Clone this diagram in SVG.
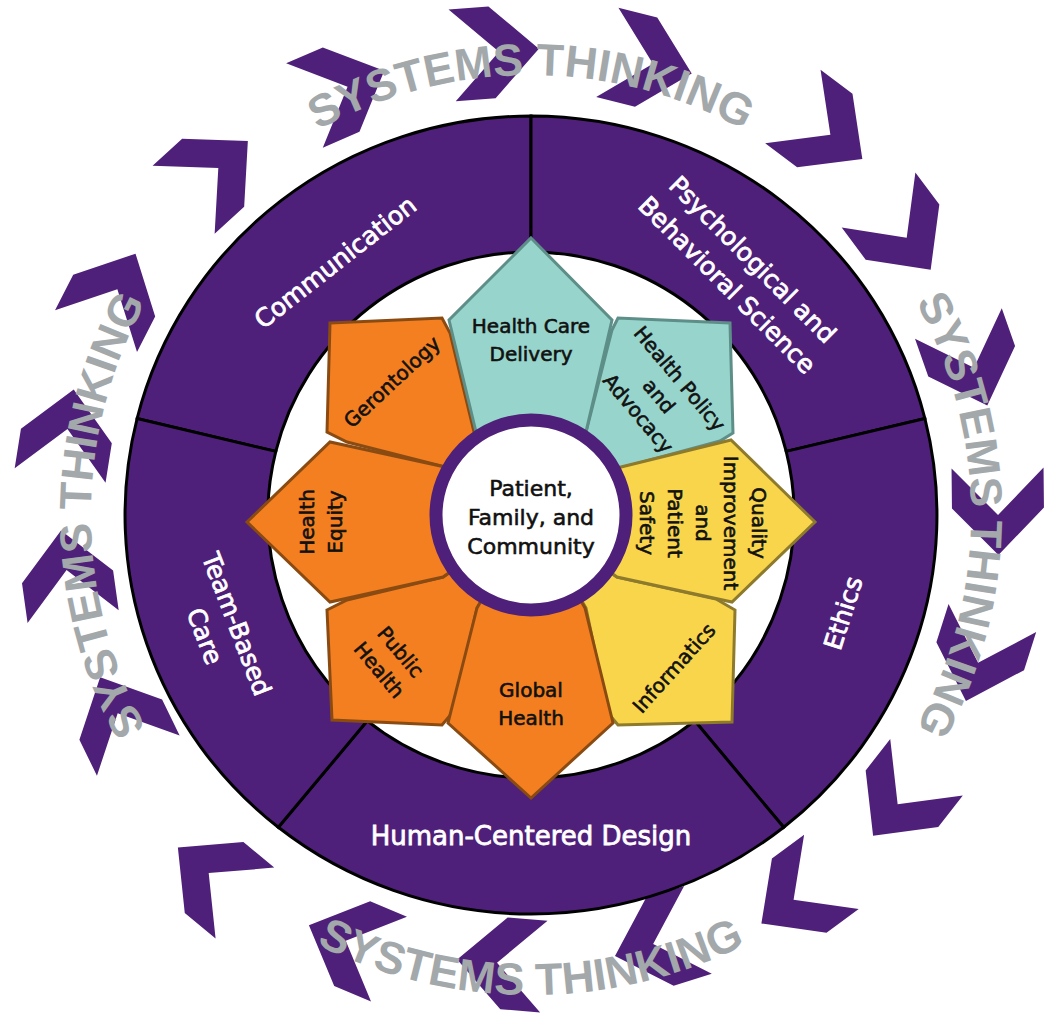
<svg xmlns="http://www.w3.org/2000/svg" xmlns:xlink="http://www.w3.org/1999/xlink" width="1048" height="1027" viewBox="0 0 1048 1027">
<style>
.ring{fill:#4f2079;stroke:#000;stroke-width:3;stroke-linejoin:miter}
.rl{fill:#fff;stroke:#fff;stroke-width:0.8;font-family:"DejaVu Sans",sans-serif;font-size:25px;text-anchor:middle}
.pl{fill:#111;stroke:#111;stroke-width:0.6;font-family:"DejaVu Sans",sans-serif;font-size:20px;text-anchor:middle}
.st{fill:#a3a8ab;font-family:"Liberation Sans",Arial,sans-serif;font-weight:bold;font-size:45px}
.chev{fill:#4f2079}
.orange{fill:#f47f20;stroke:#8a4b13;stroke-width:3}
.teal{fill:#97d4cb;stroke:#5d8e88;stroke-width:3}
.yellow{fill:#f8d54b;stroke:#8e7a2c;stroke-width:3}
</style>
<defs>
<polygon id="chev" points="43,0 -4,-46 -44,-46 3,0 -44,46 -4,46"/>
<path id="pTop" d="M 91,515 A 440 440 0 0 1 971,515"/>
<path id="pRight" d="M 531,75 A 440 440 0 0 1 531,955"/>
<path id="pLeft" d="M 531,955 A 440 440 0 0 1 531,75"/>
<path id="pBottom" d="M 51,515 A 480 480 0 0 0 1011,515"/>
</defs>
<rect width="1048" height="1027" fill="#fff"/>

<g id="chevrons" class="chev">
<use xlink:href="#chev" href="#chev" transform="translate(216.1,170.1) rotate(-42.4)"/>
<use xlink:href="#chev" href="#chev" transform="translate(344.8,88) rotate(-23.5)"/>
<use xlink:href="#chev" href="#chev" transform="translate(496,52) rotate(-4.5)"/>
<use xlink:href="#chev" href="#chev" transform="translate(650,63) rotate(14)"/>
<use xlink:href="#chev" href="#chev" transform="translate(828,133) rotate(37)"/>
<use xlink:href="#chev" href="#chev" transform="translate(904.9,235.3) rotate(53.2)"/>
<use xlink:href="#chev" href="#chev" transform="translate(973,365) rotate(70.6)"/>
<use xlink:href="#chev" href="#chev" transform="translate(998,512) rotate(89.4)"/>
<use xlink:href="#chev" href="#chev" transform="translate(979,660) rotate(107.7)"/>
<use xlink:href="#chev" href="#chev" transform="translate(899.5,801.9) rotate(127.9)"/>
<use xlink:href="#chev" href="#chev" transform="translate(796,898) rotate(143.6)"/>
<use xlink:href="#chev" href="#chev" transform="translate(656,943) rotate(162.5)"/>
<use xlink:href="#chev" href="#chev" transform="translate(500,963) rotate(184.6)"/>
<use xlink:href="#chev" href="#chev" transform="translate(348.5,942) rotate(203)"/>
<use xlink:href="#chev" href="#chev" transform="translate(211,875) rotate(219.6)"/>
<use xlink:href="#chev" href="#chev" transform="translate(119,716) rotate(244)"/>
<use xlink:href="#chev" href="#chev" transform="translate(67,573) rotate(262)"/>
<use xlink:href="#chev" href="#chev" transform="translate(67,432) rotate(-81)"/>
<use xlink:href="#chev" href="#chev" transform="translate(116,292) rotate(-63)"/>
</g>

<g id="systems-thinking" class="st">
<text><textPath xlink:href="#pTop" href="#pTop" startOffset="50%" text-anchor="middle">SYSTEMS THINKING</textPath></text>
<text><textPath xlink:href="#pRight" href="#pRight" startOffset="50%" text-anchor="middle">SYSTEMS THINKING</textPath></text>
<text><textPath xlink:href="#pLeft" href="#pLeft" startOffset="50%" text-anchor="middle">SYSTEMS THINKING</textPath></text>
<text><textPath xlink:href="#pBottom" href="#pBottom" startOffset="50%" text-anchor="middle">SYSTEMS THINKING</textPath></text>
</g>

<g id="ring-communication">
<path class="ring" d="M 275.8,451.4 L 137.1,418.5 A 406 399 0 0 1 531,116 L 531,252 A 263 263 0 0 0 275.8,451.4 Z"/>
<text class="rl" transform="translate(335,262) rotate(-38)" y="9">Communication</text>
</g>
<g id="ring-psychological">
<path class="ring" d="M 531,252 L 531,116 A 406 399 0 0 1 924.9,418.5 L 786.2,451.4 A 263 263 0 0 0 531,252 Z"/>
<text class="rl" transform="translate(740,272) rotate(45)"><tspan x="0" y="-9">Psychological and</tspan><tspan x="0" y="27">Behavioral Science</tspan></text>
</g>
<g id="ring-ethics">
<path class="ring" d="M 786.2,451.4 L 924.9,418.5 A 406 399 0 0 1 783.7,827.3 L 694.7,720.8 A 263 263 0 0 0 786.2,451.4 Z"/>
<text class="rl" transform="translate(843,613) rotate(-72.6)" y="9">Ethics</text>
</g>
<g id="ring-human-centered">
<path class="ring" d="M 694.7,720.8 L 783.7,827.3 A 406 399 0 0 1 278.3,827.3 L 367.3,720.8 A 263 263 0 0 0 694.7,720.8 Z"/>
<text class="rl" x="531" y="845" style="font-size:26px">Human-Centered Design</text>
</g>
<g id="ring-team-based">
<path class="ring" d="M 367.3,720.8 L 278.3,827.3 A 406 399 0 0 1 137.1,418.5 L 275.8,451.4 A 263 263 0 0 0 367.3,720.8 Z"/>
<text class="rl" transform="translate(221,630) rotate(69)"><tspan x="0" y="-8">Team-Based</tspan><tspan x="0" y="26">Care</tspan></text>
</g>

<g id="petal-gerontology">
<polygon class="orange" points="330,323 442,318 450,333 476,440 531,515 445,467 347,442 327,432"/>
<text class="pl" transform="translate(392,382) rotate(-43)" y="7">Gerontology</text>
</g>
<g id="petal-health-policy">
<polygon class="teal" points="612,330 618,318 730,323 733,433 720,441 617,469 531,515 585,436"/>
<text class="pl" transform="translate(659,396) rotate(50)"><tspan x="0" y="-20">Health Policy</tspan><tspan x="0" y="7">and</tspan><tspan x="0" y="34">Advocacy</tspan></text>
</g>
<g id="petal-informatics">
<polygon class="yellow" points="716,599 735,610 732,722 618,725 608,713 586,608 531,515 617,577"/>
<text class="pl" transform="translate(674,668) rotate(-48)" y="7">Informatics</text>
</g>
<g id="petal-public-health">
<polygon class="orange" points="327,610 347,600 443,577 531,515 477,608 453,712 442,725 332,720"/>
<text class="pl" transform="translate(390,661) rotate(50)"><tspan x="0" y="-7">Public</tspan><tspan x="0" y="21">Health</tspan></text>
</g>
<g id="petal-health-care-delivery">
<polygon class="teal" points="531,238 612,320 585,436 531,515 477,436 449,320"/>
<text class="pl"><tspan x="531" y="333">Health Care</tspan><tspan x="531" y="361">Delivery</tspan></text>
</g>
<g id="petal-quality">
<polygon class="yellow" points="815,522 732,602 617,577 531,515 617,468 731,440"/>
<text class="pl" transform="translate(703,523) rotate(90)"><tspan x="0" y="-49">Quality</tspan><tspan x="0" y="-21">Improvement</tspan><tspan x="0" y="7">and</tspan><tspan x="0" y="35">Patient</tspan><tspan x="0" y="63">Safety</tspan></text>
</g>
<g id="petal-global-health">
<polygon class="orange" points="531,798 448,723 477,608 531,515 585,608 613,723"/>
<text class="pl"><tspan x="531" y="697">Global</tspan><tspan x="531" y="725">Health</tspan></text>
</g>
<g id="petal-health-equity">
<polygon class="orange" points="247,522 330,442 445,467 531,515 443,577 330,602"/>
<text class="pl" transform="translate(321,522) rotate(-90)"><tspan x="0" y="-7">Health</tspan><tspan x="0" y="21">Equity</tspan></text>
</g>

<g id="center">
<circle cx="531" cy="515" r="95" fill="#fff" stroke="#4f2079" stroke-width="13"/>
<text class="pl" style="font-size:22px"><tspan x="531" y="496">Patient,</tspan><tspan x="531" y="525">Family, and</tspan><tspan x="531" y="554">Community</tspan></text>
</g>
</svg>
